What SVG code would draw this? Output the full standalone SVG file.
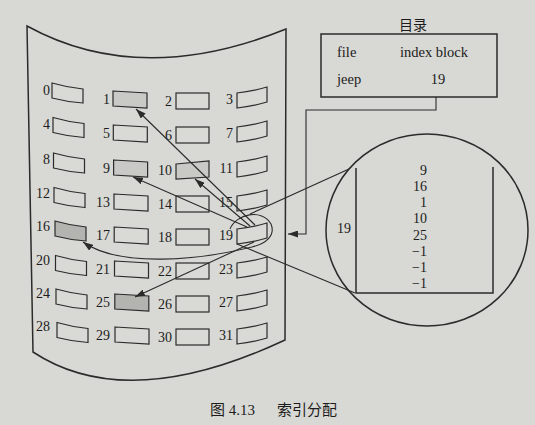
<svg xmlns="http://www.w3.org/2000/svg" width="535" height="425" viewBox="0 0 535 425">
<defs>
<style>
.ln{fill:none;stroke:#2b2b2b;stroke-width:1.5}
.blk{fill:#d9d9d5;stroke:#2b2b2b;stroke-width:1.2}
.sl{fill:#c9c9c5}
.sh{fill:#b3b3af}
.ar{fill:none;stroke:#2b2b2b;stroke-width:1.1}
.t{font-family:"Liberation Serif","Noto Sans CJK SC",serif;font-size:14px;fill:#1c1c1c}
.e{text-anchor:end}
.m{text-anchor:middle}
</style>
<marker id="ah" markerUnits="userSpaceOnUse" markerWidth="10" markerHeight="7" refX="10" refY="3.5" orient="auto">
<path d="M0,0 L10,3.5 L0,7 z" fill="#2b2b2b"/>
</marker>
</defs>
<rect width="535" height="425" fill="#d8d8d4"/>

<g id="disk">
<path class="ln" d="M27 26 Q140 88 286 29 L285 340 Q127 414 33 352 Z" fill="#d9d9d5"/>
</g>

<g id="blocks">
<g id="b0"><path class="blk" d="M52 83 Q67.5 87.5 83 89 L83 103 Q67.5 102 52 98 Z"/><text class="t e" x="50" y="95">0</text></g>
<g id="b1"><path class="blk sl" d="M113 91 L147 93 L147 108 L113 106 Z"/><text class="t e" x="110" y="104">1</text></g>
<g id="b2"><rect class="blk" x="176" y="93" width="33" height="16"/><text class="t e" x="172" y="106">2</text></g>
<g id="b3"><path class="blk" d="M237 93 Q252 91.5 267 87 L267 102 Q252 106.5 237 108 Z"/><text class="t e" x="233" y="104">3</text></g>

<g id="b4"><path class="blk" d="M53 117.5 Q68.5 122 84 123.5 L84 137.5 Q68.5 136.5 53 132.5 Z"/><text class="t e" x="50" y="129">4</text></g>
<g id="b5"><path class="blk" d="M113.3 125 L147.3 127 L147.3 142 L113.3 140 Z"/><text class="t e" x="110" y="138">5</text></g>
<g id="b6"><rect class="blk" x="176" y="127" width="33" height="16"/><text class="t e" x="172" y="140">6</text></g>
<g id="b7"><path class="blk" d="M237 127 Q252 125.5 267 121 L267 136 Q252 140.5 237 142 Z"/><text class="t e" x="233" y="138">7</text></g>

<g id="b8"><path class="blk" d="M53.5 153 Q69 157.5 84.5 159 L84.5 173 Q69 172 53.5 168 Z"/><text class="t e" x="50" y="164">8</text></g>
<g id="b9"><path class="blk sl" d="M113.6 160 L147.6 162 L147.6 177 L113.6 175 Z"/><text class="t e" x="110" y="173">9</text></g>
<g id="b10"><path class="blk sl" d="M176 164 L209 161 L209 177 L176 179 Z"/><text class="t e" x="172" y="175">10</text></g>
<g id="b11"><path class="blk" d="M237 162 Q252 160.5 267 156 L267 171 Q252 175.5 237 177 Z"/><text class="t e" x="233" y="173">11</text></g>

<g id="b12"><path class="blk" d="M54 187.5 Q69.5 192 85 193.5 L85 207.5 Q69.5 206.5 54 202.5 Z"/><text class="t e" x="50" y="198">12</text></g>
<g id="b13"><path class="blk" d="M114 194 L148 196 L148 211 L114 209 Z"/><text class="t e" x="110" y="207">13</text></g>
<g id="b14"><rect class="blk" x="176" y="196" width="33" height="16"/><text class="t e" x="172" y="209">14</text></g>
<g id="b15"><path class="blk" d="M237 196 Q252 194.5 267 190 L267 205 Q252 209.5 237 211 Z"/><text class="t e" x="233" y="207">15</text></g>

<g id="b16"><path class="blk sh" d="M55 221 Q70.5 225.5 86 227 L86 241 Q70.5 240 55 236 Z"/><text class="t e" x="50" y="231">16</text></g>
<g id="b17"><path class="blk" d="M114.2 227 L148.2 229 L148.2 244 L114.2 242 Z"/><text class="t e" x="110" y="240">17</text></g>
<g id="b18"><rect class="blk" x="176" y="229" width="33" height="16"/><text class="t e" x="172" y="242">18</text></g>
<g id="b19"><path class="blk" d="M237 229 Q252 227.5 267 223 L267 238 Q252 242.5 237 244 Z"/><text class="t e" x="233" y="240">19</text></g>

<g id="b20"><path class="blk" d="M55.5 255.5 Q71 260 86.5 261.5 L86.5 275.5 Q71 274.5 55.5 270.5 Z"/><text class="t e" x="50" y="265">20</text></g>
<g id="b21"><path class="blk" d="M114.5 261 L148.5 263 L148.5 278 L114.5 276 Z"/><text class="t e" x="110" y="274">21</text></g>
<g id="b22"><rect class="blk" x="176" y="263" width="33" height="16"/><text class="t e" x="172" y="276">22</text></g>
<g id="b23"><path class="blk" d="M237 263 Q252 261.5 267 257 L267 272 Q252 276.5 237 278 Z"/><text class="t e" x="233" y="274">23</text></g>

<g id="b24"><path class="blk" d="M56 289 Q71.5 293.5 87 295 L87 309 Q71.5 308 56 304 Z"/><text class="t e" x="50" y="298">24</text></g>
<g id="b25"><path class="blk sh" d="M114.8 294 L148.8 296 L148.8 311 L114.8 309 Z"/><text class="t e" x="110" y="307">25</text></g>
<g id="b26"><rect class="blk" x="176" y="296" width="33" height="16"/><text class="t e" x="172" y="309">26</text></g>
<g id="b27"><path class="blk" d="M237 296 Q252 294.5 267 290 L267 305 Q252 309.5 237 311 Z"/><text class="t e" x="233" y="307">27</text></g>

<g id="b28"><path class="blk" d="M57 322.5 Q72.5 327 88 328.5 L88 342.5 Q72.5 341.5 57 337.5 Z"/><text class="t e" x="50" y="331">28</text></g>
<g id="b29"><path class="blk" d="M115 327 L149 329 L149 344 L115 342 Z"/><text class="t e" x="110" y="340">29</text></g>
<g id="b30"><rect class="blk" x="176" y="329" width="33" height="16"/><text class="t e" x="172" y="342">30</text></g>
<g id="b31"><path class="blk" d="M237 329 Q252 327.5 267 323 L267 338 Q252 342.5 237 344 Z"/><text class="t e" x="233" y="340">31</text></g>
</g>

<g id="directory">
<text class="t m" x="413" y="30">目录</text>
<rect class="ln" x="321" y="34" width="176" height="63"/>
<text class="t" x="337" y="57" style="font-size:14.5px">file</text>
<text class="t" x="400" y="57" style="font-size:14.5px">index block</text>
<text class="t" x="337" y="84" style="font-size:14.5px">jeep</text>
<text class="t m" x="438" y="84" style="font-size:14.5px">19</text>
</g>

<g id="index-block">
<ellipse class="ln" cx="427" cy="230" rx="101" ry="96"/>
<path class="ln" d="M356 168 L356 293 L493 293 L493 167"/>
<text class="t e" x="351" y="233">19</text>
<text class="t e" x="427" y="175">9</text>
<text class="t e" x="427" y="191">16</text>
<text class="t e" x="427" y="207">1</text>
<text class="t e" x="427" y="223">10</text>
<text class="t e" x="427" y="240">25</text>
<text class="t e" x="427" y="256">−1</text>
<text class="t e" x="427" y="272">−1</text>
<text class="t e" x="427" y="288">−1</text>
</g>

<g id="connectors">
<polyline class="ar" points="436,97 436,110 306,110 306,234 288,234" marker-end="url(#ah)"/>
<line class="ar" x1="255" y1="225" x2="136" y2="109" marker-end="url(#ah)"/>
<line class="ar" x1="250" y1="226" x2="195" y2="179" marker-end="url(#ah)"/>
<line class="ar" x1="247" y1="227" x2="133" y2="177" marker-end="url(#ah)"/>
<line class="ar" x1="254" y1="242" x2="135" y2="297" marker-end="url(#ah)"/>
<path class="ar" d="M230 229 C236 214 262 208 271 224 C276 236 265 244 252 247 C200 260 120 268 83 242" marker-end="url(#ah)"/>
<line class="ar" x1="250" y1="214" x2="349" y2="169"/>
<line class="ar" x1="237" y1="244" x2="355" y2="293"/>
</g>

<text class="t" x="210" y="415" style="font-size:15px">图 4.13<tspan x="277">索引分配</tspan></text>
</svg>
